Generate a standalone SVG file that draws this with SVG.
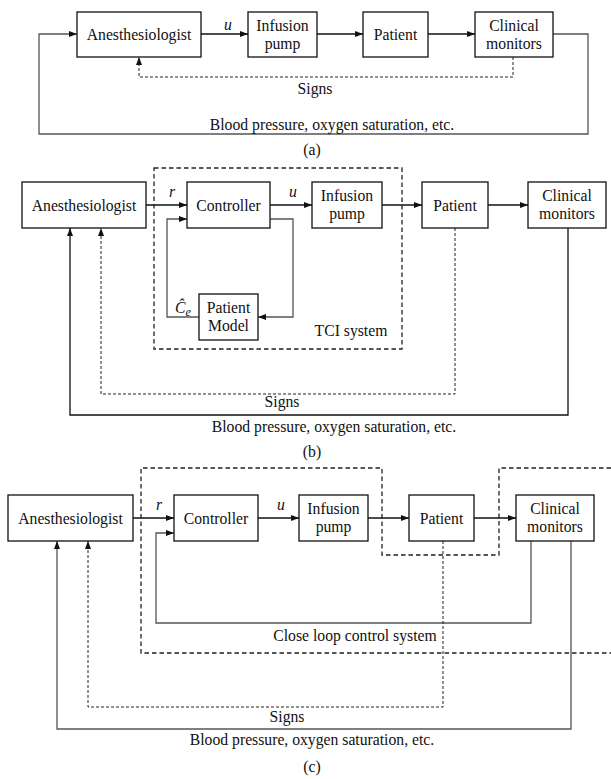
<svg xmlns="http://www.w3.org/2000/svg" width="611" height="779" viewBox="0 0 611 779" font-family="'Times New Roman', 'Liberation Serif', 'DejaVu Serif', serif">
<style>
text{font-family:"Times New Roman","Liberation Serif","DejaVu Serif",serif;font-size:15.7px;fill:#111;text-anchor:middle}
.m{font-style:italic}
.box{fill:#fff;stroke:#111;stroke-width:1.3}
.ln{fill:none;stroke:#111;stroke-width:1.3}
.gr{fill:none;stroke:#555;stroke-width:1.3}
.ds{fill:none;stroke:#222;stroke-width:1;stroke-dasharray:3 2}
.db{fill:none;stroke:#222;stroke-width:1.3;stroke-dasharray:4.5 3}
.a{marker-end:url(#ah)}
</style>
<defs>
<marker id="ah" markerUnits="userSpaceOnUse" markerWidth="8" markerHeight="6" refX="8" refY="3" orient="auto">
<path d="M0,0 L8,3 L0,6 z" fill="#111"/>
</marker>
</defs>

<g id="connectors">
<!-- (a) -->
<path class="ln a" d="M201,34 H248"/>
<path class="ln a" d="M317,34 H363"/>
<path class="ln a" d="M428,34 H475"/>
<path class="gr a" d="M553,34 H588 V134 H39 V34 H77"/>
<path class="ds a" d="M513,57 V77 H139 V57"/>
<!-- (b) -->
<path class="ln a" d="M146,205 H187"/>
<path class="ln a" d="M270,205 H312"/>
<path class="ln a" d="M382,205 H422"/>
<path class="ln a" d="M488,205 H528"/>
<path class="gr a" d="M270,219 H293 V317 H258"/>
<path class="gr a" d="M199,317 H167 V219 H187"/>
<path class="ds a" d="M455,228 V394 H101 V228"/>
<path class="ln a" d="M568,228 V415 H70 V228"/>
<!-- (c) -->
<path class="ln a" d="M133,518 H174"/>
<path class="ln a" d="M258,518 H299"/>
<path class="ln a" d="M368,518 H409"/>
<path class="ln a" d="M474,518 H516"/>
<path class="gr a" d="M531,541 V623 H156 V533 H174"/>
<path class="ds a" d="M443,541 V707 H88 V541"/>
<path class="gr a" d="M571,541 V729 H57 V541"/>
</g>

<g id="system-boundaries">
<rect class="db" x="154" y="168" width="248" height="181"/>
<path class="db" d="M611,468 H499 V555 H382 V468 H141 V653 H611"/>
<text x="351" y="336">TCI system</text>
<text x="355" y="641">Close loop control system</text>
</g>

<g id="labels">
<text class="m" x="228" y="30">u</text>
<text x="315" y="94">Signs</text>
<text x="332" y="130">Blood pressure, oxygen saturation, etc.</text>
<text x="312" y="155">(a)</text>
<text class="m" x="172" y="197">r</text>
<text class="m" x="293" y="197">u</text>
<text class="m" x="183" y="313">Ĉ<tspan font-size="12" dy="3">e</tspan></text>
<text x="282" y="407">Signs</text>
<text x="334" y="432">Blood pressure, oxygen saturation, etc.</text>
<text x="312" y="457">(b)</text>
<text class="m" x="159" y="510">r</text>
<text class="m" x="281" y="510">u</text>
<text x="287" y="722">Signs</text>
<text x="312" y="745">Blood pressure, oxygen saturation, etc.</text>
<text x="312" y="772">(c)</text>
</g>

<!-- Panel (a) -->
<g id="a-anesthesiologist"><rect class="box" x="77" y="12" width="124" height="45"/><text x="139" y="40">Anesthesiologist</text></g>
<g id="a-infusion-pump"><rect class="box" x="248" y="12" width="69" height="45"/><text x="282.5" y="31">Infusion</text><text x="282.5" y="49">pump</text></g>
<g id="a-patient"><rect class="box" x="363" y="12" width="65" height="45"/><text x="395.5" y="40">Patient</text></g>
<g id="a-clinical-monitors"><rect class="box" x="475" y="12" width="78" height="45"/><text x="514" y="31">Clinical</text><text x="514" y="49">monitors</text></g>

<!-- Panel (b) -->
<g id="b-anesthesiologist"><rect class="box" x="22" y="182" width="124" height="46"/><text x="84" y="211">Anesthesiologist</text></g>
<g id="b-controller"><rect class="box" x="187" y="182" width="83" height="46"/><text x="228.5" y="211">Controller</text></g>
<g id="b-infusion-pump"><rect class="box" x="312" y="182" width="70" height="46"/><text x="347" y="201">Infusion</text><text x="347" y="219">pump</text></g>
<g id="b-patient"><rect class="box" x="422" y="182" width="66" height="46"/><text x="455" y="211">Patient</text></g>
<g id="b-clinical-monitors"><rect class="box" x="528" y="182" width="78" height="46"/><text x="567" y="201">Clinical</text><text x="567" y="219">monitors</text></g>
<g id="b-patient-model"><rect class="box" x="199" y="294" width="59" height="46"/><text x="228.5" y="313">Patient</text><text x="228.5" y="331">Model</text></g>

<!-- Panel (c) -->
<g id="c-anesthesiologist"><rect class="box" x="8" y="495" width="125" height="46"/><text x="70.5" y="524">Anesthesiologist</text></g>
<g id="c-controller"><rect class="box" x="174" y="495" width="84" height="46"/><text x="216" y="524">Controller</text></g>
<g id="c-infusion-pump"><rect class="box" x="299" y="495" width="69" height="46"/><text x="333.5" y="514">Infusion</text><text x="333.5" y="532">pump</text></g>
<g id="c-patient"><rect class="box" x="409" y="495" width="65" height="46"/><text x="441.5" y="524">Patient</text></g>
<g id="c-clinical-monitors"><rect class="box" x="516" y="495" width="78" height="46"/><text x="555" y="514">Clinical</text><text x="555" y="532">monitors</text></g>
</svg>
